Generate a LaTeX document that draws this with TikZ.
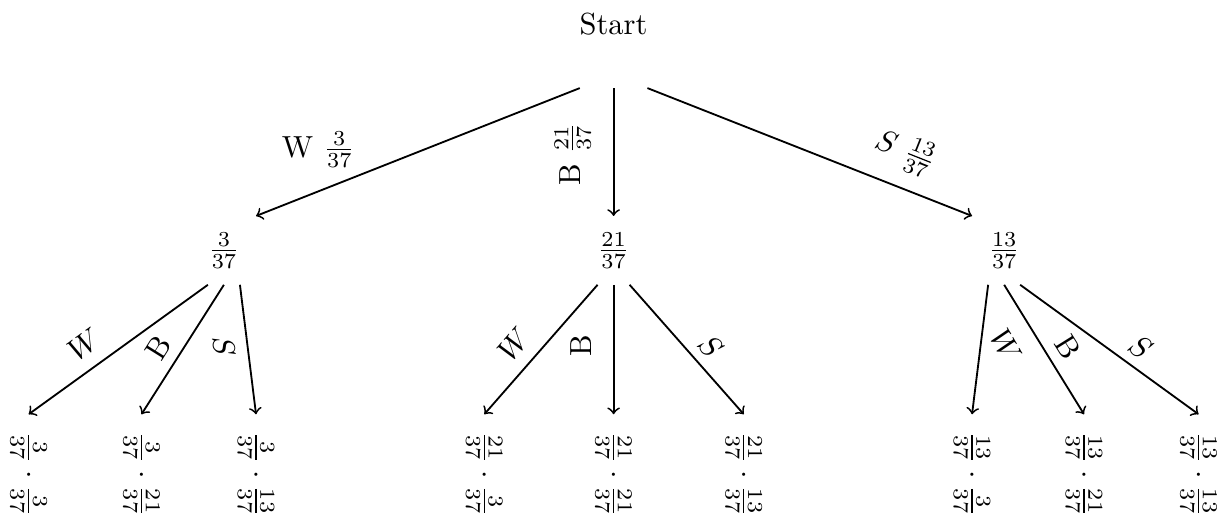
\documentclass[tikz,border=0pt]{standalone}
\usepackage{amsmath}
\usepackage{amssymb}

\tikzset{
    arr/.style={->, semithick},
    prob/.style={outer sep=2pt},
    leaf/.style={rotate=-90, inner xsep=5.7pt, outer sep=0pt}
}

\begin{document}
\begin{tikzpicture}
    \useasboundingbox (0,0) rectangle (14.08,5.935);

    % Root
    \node (start) at (7.07,5.66) {Start};
    \coordinate (rw) at (6.68,4.92);
    \coordinate (rb) at (7.07,4.92);
    \coordinate (rs) at (7.46,4.92);

    % First draw
    \node[prob] (pw) at (2.58,3.05) {$\frac{3}{37}$};
    \node[prob] (pb) at (7.07,3.05) {$\frac{21}{37}$};
    \node[prob] (ps) at (11.57,3.05) {$\frac{13}{37}$};

    \draw[arr] (rw) -- (pw.north east);
    \draw[arr] (rb) -- (pb.north);
    \draw[arr] (rs) -- (ps.north west);

    \node at (3.67,4.21) {W $\frac{3}{37}$};
    \node[rotate=90] at (6.60,4.16) {B $\frac{21}{37}$};
    \node[rotate=-21.7] at (10.43,4.18) {$S\ \frac{13}{37}$};

    % Second draw, left
    \node[leaf] (ww) at (0.33,0.47) {$\frac{3}{37}\cdot\frac{3}{37}$};
    \node[leaf] (wb) at (1.63,0.47) {$\frac{3}{37}\cdot\frac{21}{37}$};
    \node[leaf] (ws) at (2.95,0.47) {$\frac{3}{37}\cdot\frac{13}{37}$};
    \draw[arr] ([xshift=-5.25pt]pw.south) -- (ww.west);
    \draw[arr] (pw.south) -- (wb.west);
    \draw[arr] ([xshift=5.25pt]pw.south) -- (ws.west);
    \node[rotate=36] at (0.97,1.97) {$W$};
    \node[rotate=58] at (1.83,1.93) {B};
    \node[rotate=-83] at (2.58,1.94) {$S$};

    % Second draw, middle
    \node[leaf] (bw) at (5.58,0.47) {$\frac{21}{37}\cdot\frac{3}{37}$};
    \node[leaf] (bb) at (7.07,0.47) {$\frac{21}{37}\cdot\frac{21}{37}$};
    \node[leaf] (bs) at (8.57,0.47) {$\frac{21}{37}\cdot\frac{13}{37}$};
    \draw[arr] ([xshift=-5.25pt]pb.south) -- (bw.west);
    \draw[arr] (pb.south) -- (bb.west);
    \draw[arr] ([xshift=5.25pt]pb.south) -- (bs.west);
    \node[rotate=49] at (5.92,1.97) {$W$};
    \node[rotate=90] at (6.70,1.95) {B};
    \node[rotate=-49] at (8.19,1.94) {$S$};

    % Second draw, right
    \node[leaf] (sw) at (11.20,0.47) {$\frac{13}{37}\cdot\frac{3}{37}$};
    \node[leaf] (sb) at (12.49,0.47) {$\frac{13}{37}\cdot\frac{21}{37}$};
    \node[leaf] (ss) at (13.81,0.47) {$\frac{13}{37}\cdot\frac{13}{37}$};
    \draw[arr] ([xshift=-5.25pt]ps.south) -- (sw.west);
    \draw[arr] (ps.south) -- (sb.west);
    \draw[arr] ([xshift=5.25pt]ps.south) -- (ss.west);
    \node[rotate=-60] at (11.59,1.95) {$W$};
    \node[rotate=-58] at (12.31,1.94) {B};
    \node[rotate=-36] at (13.14,1.94) {$S$};
\end{tikzpicture}
\end{document}
